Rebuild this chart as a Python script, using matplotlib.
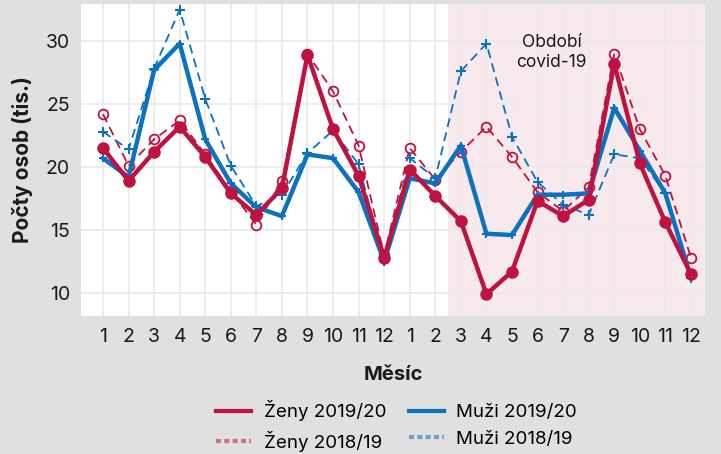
import matplotlib.pyplot as plt
import numpy as np

plt.rcParams["font.family"] = ["Inter", "DejaVu Sans"]

# month labels, two school years side by side
months = list(range(1, 13)) + list(range(1, 13))

zeny_2019 = [21.5, 18.9, 21.2, 23.2, 20.8, 17.9, 16.2, 18.3, 28.9, 23.0, 19.3, 12.8,
             19.8, 17.7, 15.7, 9.9, 11.7, 17.3, 16.1, 17.4, 28.2, 20.3, 15.6, 11.5]
muzi_2019 = [20.7, 19.2, 27.7, 29.8, 22.2, 18.7, 16.8, 16.1, 21.0, 20.7, 18.0, 12.5,
             19.1, 18.7, 21.7, 14.7, 14.6, 17.8, 17.8, 17.9, 24.7, 21.3, 17.9, 11.2]
zeny_2018 = [24.2, 20.1, 22.2, 23.7, 21.0, 18.1, 15.4, 18.9, 29.0, 26.0, 21.7, 13.0,
             21.5, 19.0, 21.2, 23.2, 20.8, 18.0, 16.5, 18.4, 29.0, 23.0, 19.3, 12.8]
muzi_2018 = [22.8, 21.4, 27.8, 32.5, 25.4, 20.1, 16.9, 17.8, 21.1, 22.9, 20.2, 12.5,
             20.7, 19.1, 27.6, 29.8, 22.4, 18.8, 17.0, 16.2, 21.0, 20.7, 17.9, 11.2]

RED = "#be1340"
BLUE = "#0b72c0"
BG = "#e0e0df"

x = np.arange(1, len(months) + 1)

fig = plt.figure(figsize=(7.21, 4.54), dpi=100, facecolor=BG)
ax = fig.add_axes([81 / 721, 1 - 316 / 454, 624 / 721, 312 / 454])
ax.set_facecolor("white")

ax.axvspan(14.5, 24.6, color="#f8e9ec", zorder=0, lw=0)

ax.plot(x, zeny_2018, color=RED, lw=1.3, ls=(0, (5, 3)), marker="o", ms=7,
        mfc="none", mew=1.3, zorder=3)
ax.plot(x, muzi_2018, color=BLUE, lw=1.3, ls=(0, (5, 3)), marker="+", ms=7.5,
        mew=1.5, zorder=3)
ax.plot(x, muzi_2019, color=BLUE, lw=3.2, marker="+", ms=6, mew=1.5, zorder=4)
ax.plot(x, zeny_2019, color=RED, lw=3.2, marker="o", ms=8, zorder=5)

ax.text(18.55, 29.1, "Období\ncovid-19", ha="center", va="center", fontsize=12.5,
        color="#1a1a1a", linespacing=1.25, zorder=6)

ax.set_xlim(0.14, 24.55)
ax.set_ylim(8.17, 32.94)
ax.set_xticks(x)
ax.set_xticklabels([str(m) for m in months])
ax.set_yticks([10, 15, 20, 25, 30])
ax.tick_params(length=0, labelsize=14, colors="#1a1a1a", pad=8)
ax.tick_params(axis="x", pad=9)
ax.grid(True, color="#ebebeb", lw=1.3, zorder=1)
ax.set_axisbelow(True)
for s in ax.spines.values():
    s.set_visible(False)

ax.set_xlabel("Měsíc", fontsize=14.5, fontweight="bold", labelpad=14, color="#1a1a1a")
ax.set_ylabel("Počty osob (tis.)", fontsize=15, fontweight="bold", labelpad=9,
              color="#1a1a1a")

handles = [
    plt.Line2D([], [], color=RED, lw=3),
    plt.Line2D([], [], color=RED, lw=3, ls=(0, (1.2, 0.8)), alpha=0.55),
    plt.Line2D([], [], color=BLUE, lw=3),
    plt.Line2D([], [], color=BLUE, lw=3, ls=(0, (1.2, 0.8)), alpha=0.55),
]
labels = ["Ženy 2019/20", "Ženy 2018/19", "Muži 2019/20", "Muži 2018/19"]
fig.legend(handles, labels, ncol=2, loc="center", bbox_to_anchor=(0.55, 0.062),
           frameon=False, fontsize=13.5, handlelength=1.9, columnspacing=1.2,
           labelspacing=0.5, handletextpad=0.65)

fig.savefig("out.png", dpi=100, facecolor=BG)
